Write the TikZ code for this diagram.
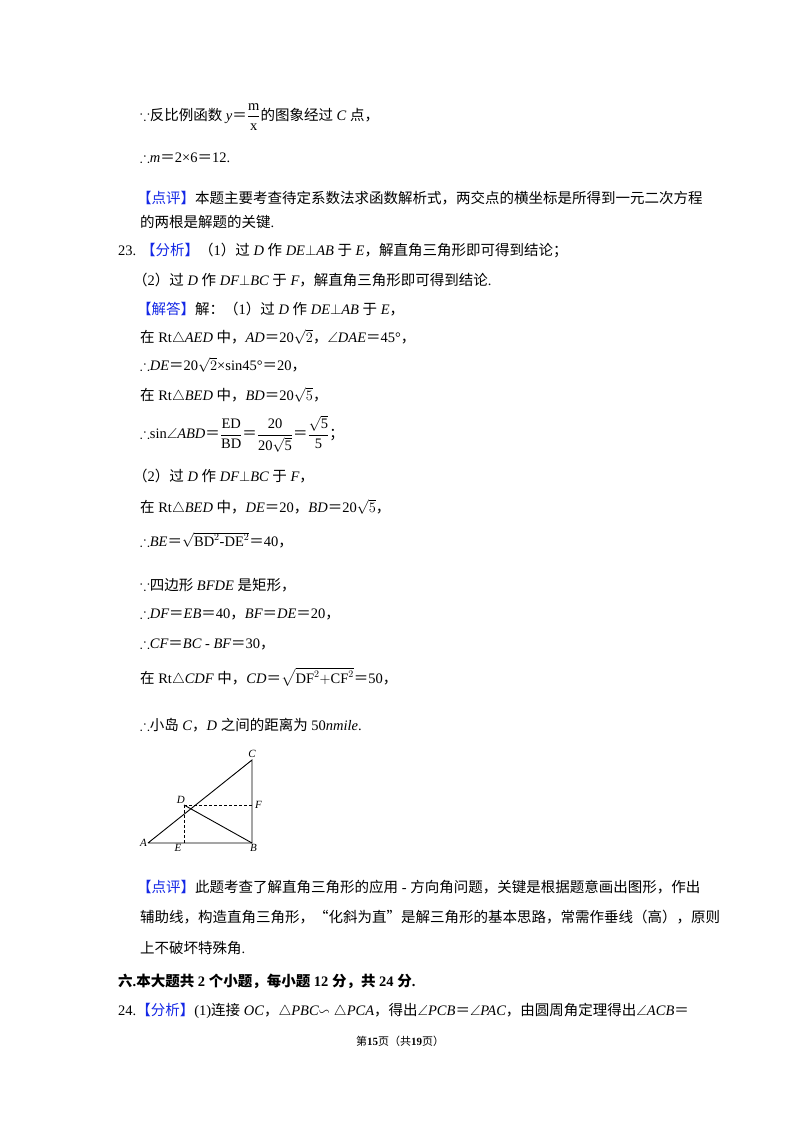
\documentclass[tikz,border=0pt]{standalone}
\usepackage{fontspec}
\usepackage{amssymb}
\setmainfont{Liberation Serif}
\newfontfamily\cjk{Noto Sans CJK SC}
\newcount\cc
\newcommand{\setcls}[2]{\cc=#1 \loop\XeTeXcharclass\cc=1 \ifnum\cc<#2 \advance\cc by 1 \repeat}
\setcls{"4E00}{"9FFF}
\setcls{"3000}{"303F}
\setcls{"FF00}{"FFEF}
\XeTeXcharclass"201C=1
\XeTeXcharclass"201D=1
\XeTeXinterchartokenstate=1
\XeTeXinterchartoks 0 1 = {\cjk}
\XeTeXinterchartoks 4095 1 = {\cjk}
\XeTeXinterchartoks 1 0 = {\rmfamily}
\XeTeXinterchartoks 1 4095 = {\rmfamily}
\definecolor{kblue}{RGB}{20,40,230}
\newcommand{\I}[1]{{\rmfamily\itshape #1}}
\newcommand{\df}[2]{$\displaystyle\frac{\mathrm{#1}}{\mathrm{#2}}$}
\begin{document}
\begin{tikzpicture}[x=1pt,y=-1pt,
  ln/.style={anchor=west,inner sep=0pt,font=\fontsize{14.5}{17}\selectfont\rmfamily},
  lab/.style={inner sep=1pt,font=\fontsize{11}{13}\selectfont\itshape},
  fig/.style={line width=0.9pt},
  aux/.style={line width=0.7pt,densely dashed}]
\useasboundingbox[fill=white] (0,0) rectangle (800,1132);
\newcommand{\bl}[1]{{\color{kblue}#1}}
\node[ln] (l1) at (140,117) {$\because$反比例函数 \I{y}＝\df{m}{x}的图象经过 \I{C} 点，};
\node[ln] (l2) at (140,158) {$\therefore$\I{m}＝2×6＝12.};
\node[ln] (l3) at (137,198) {\bl{【点评】}本题主要考查待定系数法求函数解析式，两交点的横坐标是所得到一元二次方程};
\node[ln] (l4) at (140,222) {的两根是解题的关键.};
\node[ln] (l5) at (118,250) {23. \bl{【分析】}（1）过 \I{D} 作 \I{DE}$\perp$\I{AB} 于 \I{E}，解直角三角形即可得到结论；};
\node[ln] (l6) at (133,280) {（2）过 \I{D} 作 \I{DF}$\perp$\I{BC} 于 \I{F}，解直角三角形即可得到结论.};
\node[ln] (l7) at (137,309) {\bl{【解答】}解：（1）过 \I{D} 作 \I{DE}$\perp$\I{AB} 于 \I{E}，};
\node[ln] (l8) at (140,337) {在 Rt$\triangle$\I{AED} 中，\I{AD}＝20$\sqrt{2}$，$\angle$\I{DAE}＝45°，};
\node[ln] (l9) at (140,365) {$\therefore$\I{DE}＝20$\sqrt{2}$×sin45°＝20，};
\node[ln] (l10) at (140,395) {在 Rt$\triangle$\I{BED} 中，\I{BD}＝20$\sqrt{5}$，};
\node[ln] (l11) at (140,434) {$\therefore$sin$\angle$\I{ABD}＝\df{ED}{BD}＝\df{20}{20\sqrt5}＝\df{\sqrt5}{5}；};
\node[ln] (l12) at (133,476) {（2）过 \I{D} 作 \I{DF}$\perp$\I{BC} 于 \I{F}，};
\node[ln] (l13) at (140,507) {在 Rt$\triangle$\I{BED} 中，\I{DE}＝20，\I{BD}＝20$\sqrt{5}$，};
\node[ln] (l14) at (140,540) {$\therefore$\I{BE}＝$\sqrt{\mathrm{BD}^2\mbox{-}\mathrm{DE}^2}$＝40，};
\node[ln] (l15) at (140,585) {$\because$四边形 \I{BFDE} 是矩形，};
\node[ln] (l16) at (140,614) {$\therefore$\I{DF}＝\I{EB}＝40，\I{BF}＝\I{DE}＝20，};
\node[ln] (l17) at (140,644) {$\therefore$\I{CF}＝\I{BC} - \I{BF}＝30，};
\node[ln] (l18) at (140,677) {在 Rt$\triangle$\I{CDF} 中，\I{CD}＝$\sqrt{\mathrm{DF}^2{+}\mathrm{CF}^2}$＝50，};
\node[ln] (l19) at (140,725) {$\therefore$小岛 \I{C}，\I{D} 之间的距离为 50\I{nmile}.};
% figure
\coordinate (A) at (148,843);
\coordinate (D) at (184,805);
\coordinate (E) at (184,843);
\coordinate (B) at (252,843);
\coordinate (C) at (252,760);
\coordinate (F) at (252,805);
\draw[fig] (A) -- (B) -- (C) -- (A);
\draw[fig] (D) -- (B);
\draw[aux] (D) -- (E);
\draw[aux] (D) -- (F);
\node[lab,anchor=east] (tA) at (A) {A};
\node[lab,anchor=north] (tE) at ([xshift=-6pt]E) {E};
\node[lab,anchor=north west] (tB) at ([xshift=-3pt]B) {B};
\node[lab,anchor=south] (tC) at ([yshift=1pt]C) {C};
\node[lab,anchor=south east] (tD) at ([xshift=2pt]D) {D};
\node[lab,anchor=west] (tF) at ([xshift=2pt]F) {F};
\node[ln] (l20) at (137,887) {\bl{【点评】}此题考查了解直角三角形的应用 - 方向角问题，关键是根据题意画出图形，作出};
\node[ln] (l21) at (140,917) {辅助线，构造直角三角形，“化斜为直”是解三角形的基本思路，常需作垂线（高），原则};
\node[ln] (l22) at (140,948) {上不破坏特殊角.};
\node[ln,font=\fontsize{14.5}{17}\selectfont\rmfamily\bfseries] (l23) at (118,981) {六.本大题共 2 个小题，每小题 12 分，共 24 分.};
\node[ln] (l24) at (118,1011) {24.\bl{【分析】}(1)连接 \I{OC}，$\triangle$\I{PBC}$\backsim\triangle$\I{PCA}，得出$\angle$\I{PCB}＝$\angle$\I{PAC}，由圆周角定理得出$\angle$\I{ACB}＝};
\node[ln,font=\fontsize{11}{13}\selectfont\rmfamily,anchor=center] (ft) at (400,1041) {第\textbf{15}页（共\textbf{19}页）};
\end{tikzpicture}
\end{document}
